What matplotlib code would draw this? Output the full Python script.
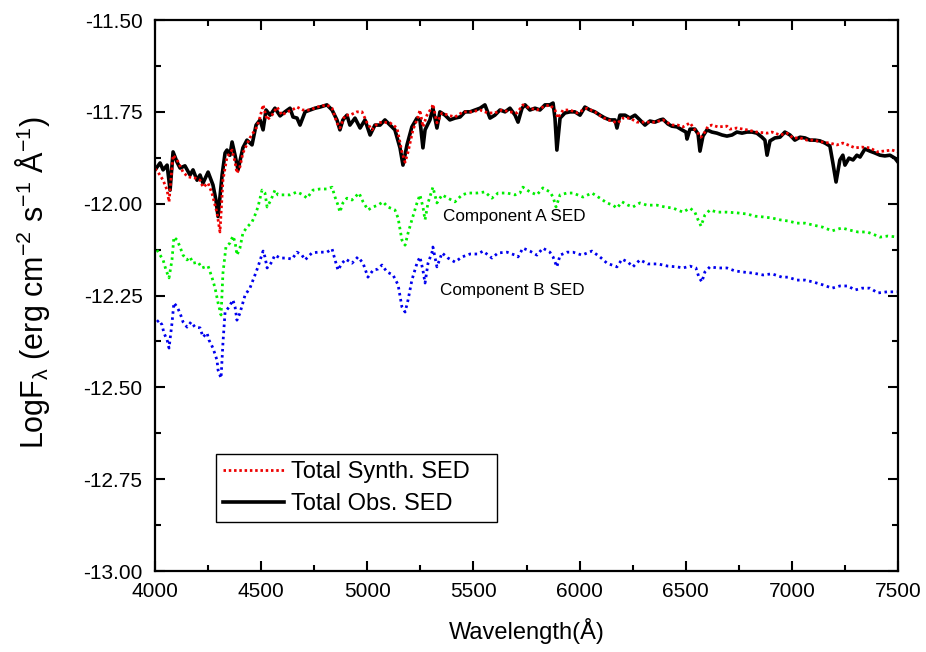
import matplotlib
matplotlib.use("Agg")
import matplotlib.pyplot as plt
from matplotlib.ticker import MultipleLocator, FormatStrFormatter
from matplotlib.lines import Line2D

plt.rcParams['font.family'] = ['Liberation Sans', 'DejaVu Sans']
plt.rcParams['mathtext.fontset'] = 'custom'
plt.rcParams['mathtext.rm'] = 'Liberation Sans'
plt.rcParams['mathtext.it'] = 'Liberation Sans:italic'
plt.rcParams['mathtext.default'] = 'regular'
plt.rcParams['axes.unicode_minus'] = False

# ---------------- data ----------------
obs_wl = [4000, 4024, 4038, 4057, 4071, 4085, 4104, 4118, 4141, 4165, 4179, 4198, 4212, 4226, 4250, 4273,
          4287, 4297, 4316, 4330, 4339, 4353, 4363, 4377, 4391, 4414, 4433, 4457, 4476, 4495, 4509, 4523,
          4542, 4565, 4589, 4612, 4636, 4650, 4669, 4683, 4707, 4730, 4754, 4777, 4810, 4834, 4857, 4871,
          4885, 4904, 4918, 4942, 4966, 4989, 5013, 5036, 5060, 5083, 5107, 5130, 5154, 5168, 5187, 5210,
          5234, 5248, 5262, 5272, 5295, 5309, 5328, 5342, 5366, 5389, 5413, 5437, 5460, 5484, 5507, 5531,
          5554, 5578, 5601, 5625, 5649, 5672, 5696, 5710, 5729, 5743, 5766, 5790, 5813, 5837, 5860, 5875,
          5884, 5893, 5908, 5931, 5955, 5978, 6002, 6025, 6049, 6072, 6096, 6120, 6143, 6167, 6176, 6190,
          6214, 6237, 6261, 6284, 6308, 6331, 6355, 6379, 6393, 6416, 6435, 6459, 6482, 6501, 6506, 6520,
          6543, 6558, 6567, 6581, 6600, 6623, 6647, 6671, 6694, 6718, 6741, 6765, 6788, 6812, 6835, 6859,
          6873, 6883, 6897, 6920, 6944, 6967, 6991, 7014, 7038, 7062, 7085, 7109, 7132, 7156, 7179, 7193,
          7208, 7226, 7240, 7250, 7269, 7288, 7306, 7321, 7344, 7368, 7391, 7415, 7438, 7462, 7485, 7500]
obs_flux = [-11.908, -11.889, -11.908, -11.895, -11.963, -11.859, -11.887, -11.903, -11.897, -11.922, -11.908,
            -11.936, -11.922, -11.944, -11.914, -11.949, -11.990, -12.035, -11.922, -11.862, -11.854, -11.868,
            -11.832, -11.868, -11.908, -11.848, -11.827, -11.840, -11.786, -11.772, -11.799, -11.745, -11.759,
            -11.740, -11.761, -11.750, -11.740, -11.764, -11.767, -11.786, -11.750, -11.745, -11.740, -11.737,
            -11.731, -11.745, -11.772, -11.799, -11.772, -11.759, -11.786, -11.767, -11.794, -11.772, -11.813,
            -11.786, -11.786, -11.772, -11.786, -11.799, -11.848, -11.895, -11.840, -11.791, -11.767, -11.772,
            -11.848, -11.799, -11.772, -11.740, -11.794, -11.750, -11.759, -11.772, -11.767, -11.764, -11.750,
            -11.750, -11.745, -11.740, -11.731, -11.767, -11.759, -11.745, -11.750, -11.740, -11.759, -11.778,
            -11.740, -11.731, -11.745, -11.740, -11.745, -11.731, -11.731, -11.726, -11.767, -11.854, -11.767,
            -11.753, -11.750, -11.750, -11.759, -11.737, -11.745, -11.750, -11.759, -11.767, -11.772, -11.772,
            -11.794, -11.759, -11.759, -11.767, -11.759, -11.772, -11.786, -11.775, -11.778, -11.772, -11.770,
            -11.783, -11.789, -11.791, -11.799, -11.805, -11.824, -11.797, -11.797, -11.810, -11.857, -11.816,
            -11.799, -11.805, -11.808, -11.813, -11.816, -11.813, -11.805, -11.808, -11.805, -11.805, -11.808,
            -11.819, -11.827, -11.868, -11.829, -11.821, -11.819, -11.805, -11.813, -11.827, -11.819, -11.821,
            -11.827, -11.827, -11.829, -11.835, -11.843, -11.889, -11.941, -11.881, -11.868, -11.895, -11.876,
            -11.881, -11.868, -11.873, -11.851, -11.857, -11.862, -11.868, -11.870, -11.868, -11.876, -11.887]

syn_wl = [4000, 4014, 4038, 4057, 4066, 4080, 4085, 4104, 4132, 4155, 4188, 4212, 4226, 4250, 4268, 4292,
          4306, 4320, 4339, 4363, 4377, 4386, 4400, 4414, 4447, 4480, 4495, 4509, 4528, 4551, 4575, 4598,
          4622, 4645, 4669, 4697, 4730, 4763, 4810, 4834, 4857, 4871, 4895, 4918, 4951, 4975, 4999, 5022,
          5050, 5074, 5107, 5140, 5163, 5178, 5192, 5215, 5239, 5248, 5262, 5281, 5305, 5309, 5328, 5352,
          5380, 5413, 5451, 5493, 5531, 5568, 5601, 5634, 5672, 5705, 5733, 5766, 5799, 5827, 5860, 5884,
          5898, 5922, 5955, 5988, 6035, 6072, 6105, 6134, 6167, 6181, 6204, 6237, 6270, 6298, 6317, 6355,
          6393, 6416, 6440, 6463, 6487, 6520, 6543, 6558, 6572, 6590, 6605, 6623, 6652, 6694, 6708, 6741,
          6788, 6835, 6883, 6906, 6944, 6977, 7005, 7038, 7071, 7099, 7142, 7179, 7212, 7240, 7264, 7297,
          7330, 7368, 7401, 7429, 7471, 7500]
syn_flux = [-11.905, -11.914, -11.936, -11.963, -11.995, -11.900, -11.868, -11.881, -11.914, -11.927, -11.930,
            -11.936, -11.955, -11.944, -11.971, -12.025, -12.077, -11.936, -11.873, -11.854, -11.887, -11.917,
            -11.900, -11.862, -11.821, -11.791, -11.764, -11.731, -11.772, -11.759, -11.737, -11.759, -11.750,
            -11.745, -11.737, -11.745, -11.745, -11.737, -11.731, -11.740, -11.780, -11.794, -11.759, -11.759,
            -11.750, -11.750, -11.780, -11.799, -11.780, -11.778, -11.780, -11.794, -11.859, -11.887, -11.859,
            -11.799, -11.764, -11.745, -11.791, -11.759, -11.737, -11.729, -11.780, -11.753, -11.759, -11.764,
            -11.750, -11.750, -11.745, -11.753, -11.753, -11.745, -11.750, -11.753, -11.731, -11.740, -11.745,
            -11.737, -11.731, -11.745, -11.767, -11.745, -11.745, -11.753, -11.740, -11.750, -11.764, -11.772,
            -11.778, -11.780, -11.767, -11.767, -11.778, -11.778, -11.778, -11.778, -11.772, -11.780, -11.786,
            -11.786, -11.791, -11.780, -11.799, -11.808, -11.819, -11.805, -11.789, -11.786, -11.791, -11.789,
            -11.797, -11.794, -11.799, -11.805, -11.808, -11.805, -11.813, -11.808, -11.821, -11.821, -11.827,
            -11.827, -11.832, -11.835, -11.840, -11.835, -11.840, -11.848, -11.846, -11.848, -11.859, -11.857,
            -11.854, -11.859]

compA_wl = [4009, 4024, 4038, 4052, 4066, 4080, 4089, 4104, 4118, 4132, 4151, 4165, 4179, 4203, 4221, 4236,
            4250, 4268, 4283, 4297, 4311, 4320, 4334, 4353, 4367, 4377, 4386, 4400, 4414, 4433, 4457, 4471,
            4485, 4504, 4518, 4528, 4546, 4565, 4579, 4603, 4636, 4669, 4697, 4716, 4744, 4777, 4810, 4834,
            4848, 4862, 4871, 4885, 4904, 4928, 4942, 4961, 4980, 5003, 5027, 5050, 5074, 5097, 5130, 5145,
            5163, 5178, 5192, 5210, 5234, 5248, 5262, 5272, 5286, 5305, 5309, 5328, 5352, 5380, 5413, 5446,
            5474, 5517, 5554, 5587, 5616, 5658, 5696, 5719, 5733, 5766, 5799, 5827, 5860, 5875, 5889, 5908,
            5941, 5969, 6016, 6058, 6096, 6129, 6157, 6176, 6200, 6228, 6251, 6284, 6317, 6364, 6402, 6440,
            6487, 6520, 6543, 6558, 6572, 6590, 6614, 6647, 6694, 6741, 6788, 6826, 6864, 6906, 6944, 6981,
            7024, 7062, 7099, 7146, 7189, 7236, 7273, 7311, 7354, 7382, 7415, 7453, 7500]
compA_flux = [-12.126, -12.140, -12.153, -12.181, -12.202, -12.153, -12.091, -12.099, -12.118, -12.140, -12.153,
              -12.145, -12.162, -12.159, -12.175, -12.172, -12.170, -12.200, -12.230, -12.270, -12.303, -12.189,
              -12.118, -12.107, -12.088, -12.104, -12.140, -12.121, -12.080, -12.064, -12.050, -12.031, -12.009,
              -11.963, -11.971, -12.009, -11.990, -11.963, -11.976, -11.976, -11.976, -11.968, -11.976, -11.985,
              -11.963, -11.960, -11.960, -11.955, -11.982, -12.004, -12.023, -11.998, -11.985, -11.990, -11.982,
              -11.971, -11.995, -12.017, -12.009, -12.004, -11.995, -12.009, -12.017, -12.039, -12.099, -12.113,
              -12.080, -12.044, -11.998, -11.976, -12.009, -12.044, -11.998, -11.963, -11.955, -11.998, -11.976,
              -11.985, -11.995, -11.976, -11.971, -11.971, -11.968, -11.985, -11.971, -11.971, -11.976, -11.971,
              -11.955, -11.968, -11.976, -11.957, -11.968, -11.982, -12.009, -11.976, -11.971, -11.971, -11.982,
              -11.971, -11.985, -11.998, -12.004, -12.012, -11.995, -12.004, -12.009, -11.998, -12.004, -12.004,
              -12.009, -12.012, -12.023, -12.012, -12.023, -12.044, -12.061, -12.031, -12.017, -12.023, -12.023,
              -12.025, -12.028, -12.034, -12.036, -12.039, -12.044, -12.047, -12.053, -12.053, -12.058, -12.064,
              -12.074, -12.066, -12.072, -12.077, -12.077, -12.083, -12.091, -12.088, -12.091]

compB_wl = [4009, 4019, 4033, 4042, 4057, 4066, 4080, 4089, 4104, 4118, 4132, 4151, 4170, 4188, 4212, 4226,
            4245, 4254, 4273, 4292, 4297, 4311, 4320, 4330, 4349, 4367, 4377, 4386, 4400, 4424, 4447, 4471,
            4485, 4509, 4518, 4528, 4546, 4565, 4589, 4622, 4645, 4669, 4692, 4707, 4739, 4768, 4810, 4834,
            4848, 4862, 4881, 4899, 4928, 4956, 4980, 5003, 5027, 5050, 5069, 5093, 5121, 5145, 5163, 5178,
            5192, 5210, 5234, 5248, 5262, 5272, 5286, 5305, 5309, 5328, 5352, 5380, 5413, 5446, 5484, 5521,
            5545, 5587, 5616, 5658, 5696, 5710, 5733, 5766, 5799, 5827, 5860, 5875, 5893, 5908, 5941, 5969,
            6011, 6058, 6096, 6129, 6176, 6200, 6228, 6251, 6284, 6322, 6369, 6416, 6459, 6487, 6520, 6548,
            6562, 6576, 6590, 6614, 6652, 6694, 6732, 6769, 6817, 6864, 6906, 6953, 6981, 7024, 7062, 7099,
            7146, 7189, 7226, 7264, 7297, 7330, 7368, 7405, 7448, 7495]
compB_flux = [-12.322, -12.317, -12.330, -12.352, -12.371, -12.393, -12.325, -12.270, -12.281, -12.298, -12.322,
              -12.336, -12.322, -12.336, -12.338, -12.363, -12.352, -12.371, -12.393, -12.426, -12.453, -12.475,
              -12.379, -12.295, -12.281, -12.262, -12.281, -12.317, -12.298, -12.249, -12.230, -12.194, -12.172,
              -12.129, -12.145, -12.175, -12.162, -12.140, -12.148, -12.148, -12.151, -12.132, -12.140, -12.153,
              -12.134, -12.132, -12.132, -12.123, -12.153, -12.181, -12.162, -12.151, -12.162, -12.145, -12.162,
              -12.200, -12.181, -12.178, -12.167, -12.186, -12.194, -12.221, -12.281, -12.295, -12.262, -12.208,
              -12.162, -12.145, -12.181, -12.216, -12.162, -12.132, -12.118, -12.172, -12.134, -12.148, -12.159,
              -12.145, -12.137, -12.137, -12.129, -12.148, -12.134, -12.132, -12.140, -12.145, -12.121, -12.129,
              -12.140, -12.121, -12.132, -12.145, -12.172, -12.140, -12.132, -12.132, -12.140, -12.129, -12.145,
              -12.162, -12.172, -12.151, -12.159, -12.172, -12.153, -12.164, -12.164, -12.170, -12.172, -12.175,
              -12.170, -12.175, -12.200, -12.213, -12.186, -12.172, -12.175, -12.175, -12.183, -12.186, -12.189,
              -12.194, -12.191, -12.200, -12.200, -12.208, -12.208, -12.213, -12.221, -12.230, -12.224, -12.224,
              -12.235, -12.230, -12.230, -12.243, -12.240, -12.240]

x_ticks = [4000, 4500, 5000, 5500, 6000, 6500, 7000, 7500]
y_ticks = [-13.00, -12.75, -12.50, -12.25, -12.00, -11.75, -11.50]

# ---------------- plot ----------------
fig = plt.figure(figsize=(9.26, 6.52), dpi=100)
ax = fig.add_axes([0.1674, 0.1242, 0.8024, 0.8451])

ax.plot(compA_wl, compA_flux, color='#00ee00', lw=2.0, linestyle=(0, (0.9, 1.3)))
ax.plot(compB_wl, compB_flux, color='#0000ee', lw=2.0, linestyle=(0, (0.9, 1.3)))
ax.plot(obs_wl, obs_flux, color='black', lw=2.6, solid_joinstyle='round')
ax.plot(syn_wl, syn_flux, color='#ee0000', lw=2.0, linestyle=(0, (0.9, 1.0)))

ax.set_xlim(4000, 7500)
ax.set_ylim(-13.0, -11.5)
ax.set_xticks(x_ticks)
ax.set_yticks(y_ticks)
ax.xaxis.set_minor_locator(MultipleLocator(250))
ax.yaxis.set_minor_locator(MultipleLocator(0.125))
ax.yaxis.set_major_formatter(FormatStrFormatter('%.2f'))
ax.tick_params(which='both', direction='in', top=True, right=True, width=1.5, labelsize=15)
ax.tick_params(which='major', length=7)
ax.tick_params(which='minor', length=4)
ax.tick_params(axis='y', which='major', pad=9)
ax.tick_params(axis='x', which='major', pad=8)
for s in ax.spines.values():
    s.set_linewidth(1.6)

ax.set_xlabel('Wavelength(Å)', fontsize=17, labelpad=12)
ax.set_ylabel('LogF$_{λ}$ (erg cm$^{-2}$ s$^{-1}$ Å$^{-1}$)', fontsize=22)
ax.yaxis.set_label_coords(-0.139, 0.523)

ax.text(5356, -12.036, 'Component A SED', fontsize=12.3, va='center', ha='left')
ax.text(5342, -12.235, 'Component B SED', fontsize=12.3, va='center', ha='left')

handles = [Line2D([], [], color='#ee0000', lw=2.0, linestyle=(0, (0.9, 1.0))),
           Line2D([], [], color='black', lw=2.6)]
leg = ax.legend(handles, ['Total Synth. SED   ', 'Total Obs. SED'], loc='lower left',
                bbox_to_anchor=(0.082, 0.089), fontsize=17, frameon=True, fancybox=False,
                edgecolor='black', framealpha=1, handlelength=2.6, handletextpad=0.3,
                borderpad=0.3, labelspacing=0.42, borderaxespad=0)
leg.get_frame().set_linewidth(1.0)

fig.savefig('out.png', dpi=100)
